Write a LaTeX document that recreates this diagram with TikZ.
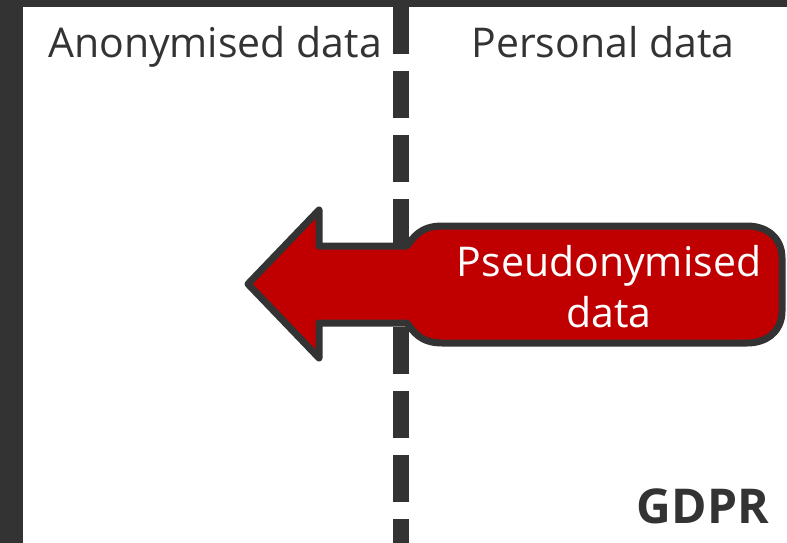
\documentclass[tikz,border=0pt]{standalone}
\usepackage{fontspec}
\setmainfont{Open Sans}
\definecolor{dgray}{HTML}{333333}
\definecolor{dred}{HTML}{C00000}
\tikzset{
  lbl/.style={text=dgray, font=\fontsize{41}{48}\selectfont, anchor=base, inner sep=0pt},
  wlbl/.style={text=white, font=\fontsize{41}{48}\selectfont, anchor=base, inner sep=0pt},
  band/.style={fill=dgray, draw=none},
  divider/.style={draw=dgray, line width=16pt, dash pattern=on 47pt off 17pt},
  pseudo/.style={draw=dgray, fill=dred, line width=7pt, line join=round}
}
\begin{document}
\begin{tikzpicture}[x=1pt,y=-1pt]
\useasboundingbox[fill=white] (0,0) rectangle (787,543);
\fill[band] (0,0) rectangle (23,543);
\fill[band] (0,0) rectangle (787,7);
\coordinate (dtop) at (401,7);
\coordinate (dbot) at (401,543);
\draw[divider] (dtop) -- (dbot);
\draw[pseudo] (248,284) -- (319,210) -- (319,246) -- (407,246)
  .. controls (413,238) and (420,226) .. (442,226) -- (747,226)
  .. controls (767,226) and (782,238) .. (782,258) -- (782,311)
  .. controls (782,331) and (767,343) .. (747,343) -- (442,343)
  .. controls (420,343) and (413,331) .. (407,323) -- (319,323) -- (319,358) -- cycle;
\node[lbl] (anon) at (215,58) {Anonymised data};
\node[lbl] (pers) at (603,58) {Personal data};
\node[wlbl] (ps1) at (609,276) {Pseudonymised};
\node[wlbl] (ps2) at (609,327) {data};
\node[lbl, font=\fontsize{48}{54}\selectfont\bfseries] (gdpr) at (703,523) {GDPR};
\end{tikzpicture}
\end{document}
